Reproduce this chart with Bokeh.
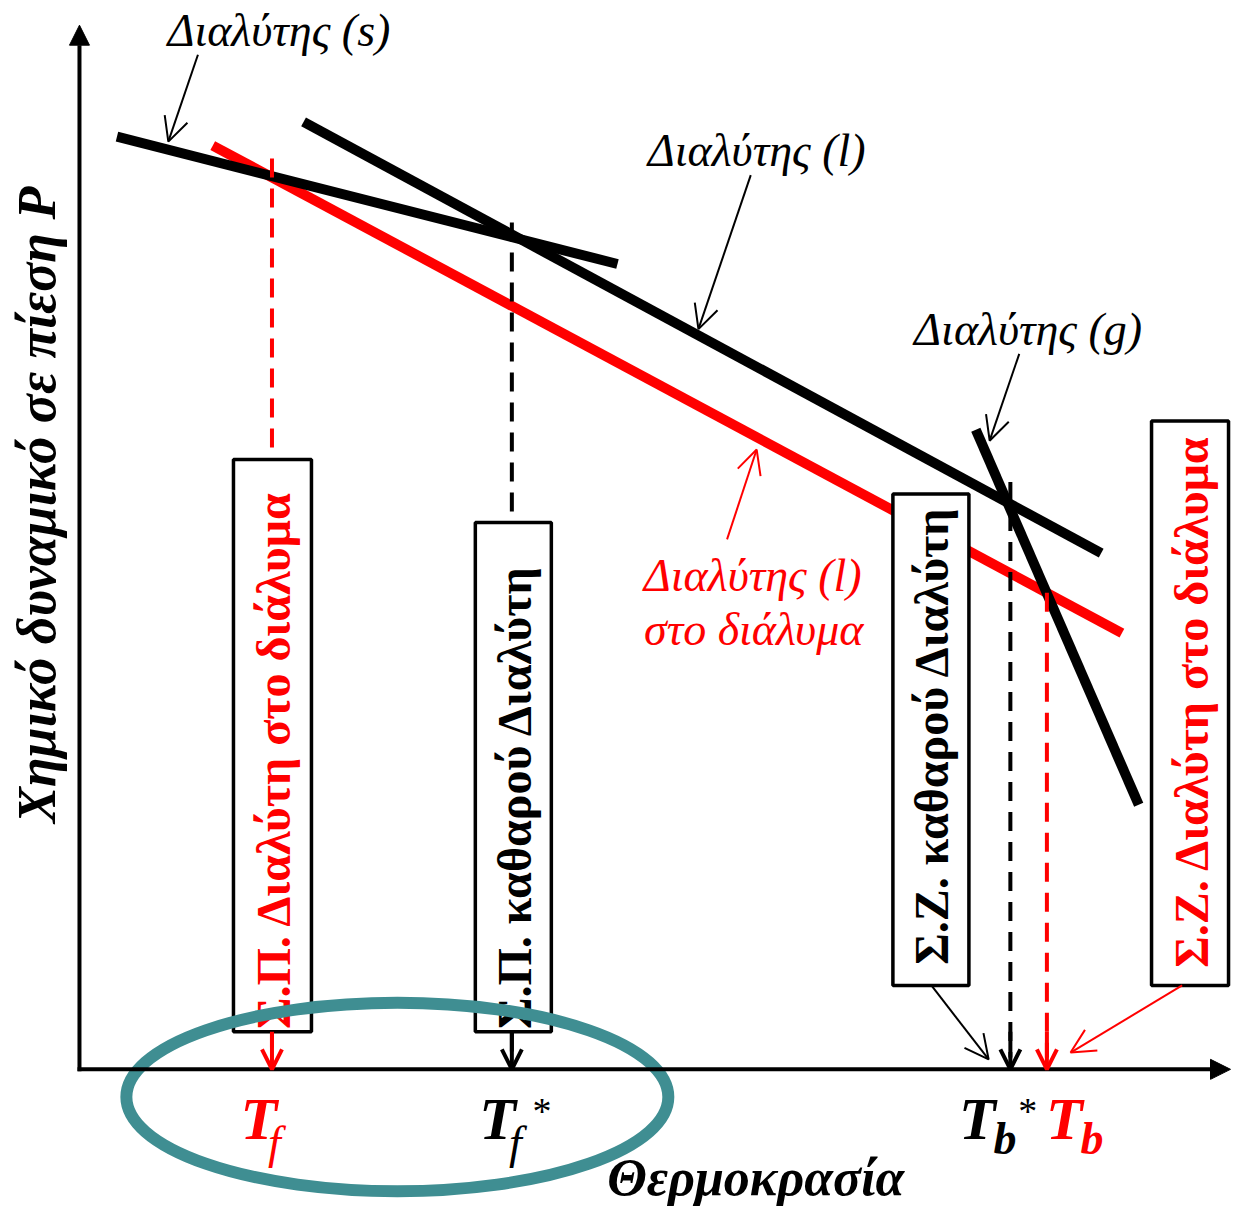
import math
from bokeh.plotting import figure
from bokeh.models import Range1d, Arrow, OpenHead, NormalHead
from bokeh.embed import file_html
from bokeh.resources import INLINE
from bokeh.core.properties import value

SERIF = "Liberation Serif"

# ---- curves: temperature (x) vs chemical potential (y, drawn downwards) ----
solid_T = [118, 625]
solid_mu = [138, 267]
liquid_T = [307, 1115]
liquid_mu = [123, 560]
solution_T = [215, 1136]
solution_mu = [147, 641]
gas_T = [988, 1153]
gas_mu = [435, 815]

# ---- transition temperatures and the potential where the curves cross ----
trans_T = [275, 518, 1023, 1060]
trans_mu = [160, 225, 488, 600]
trans_color = ["red", "black", "black", "red"]

axis_mu = 1083     # position of the temperature axis
axis_T = 80        # position of the potential axis

# ---- labelled boxes ----
box_left = [236, 481, 904, 1166]
box_right = [315, 558, 981, 1244]
box_top = [465, 529, 500, 426]
box_bottom = [1045, 1045, 998, 998]
box_text = ["Σ.Π. Διαλύτη στο διάλυμα", "Σ.Π. καθαρού Διαλύτη",
            "Σ.Ζ. καθαρού Διαλύτη", "Σ.Ζ. Διαλύτη στο διάλυμα"]
box_text_start = [1042, 1042, 977, 980]
box_color = ["red", "black", "black", "red"]

p = figure(width=1231, height=1208, output_backend="svg", toolbar_location=None,
           x_range=Range1d(0, 1247), y_range=Range1d(1224, 0),
           min_border=0, outline_line_color=None)
p.axis.visible = False
p.grid.visible = False
p.background_fill_color = "white"

# axes with arrows
p.add_layout(Arrow(end=NormalHead(size=20, fill_color="black", line_color="black"),
                   x_start=axis_T, y_start=axis_mu + 2, x_end=axis_T, y_end=25,
                   line_width=4, line_color="black"))
p.add_layout(Arrow(end=NormalHead(size=20, fill_color="black", line_color="black"),
                   x_start=axis_T - 2, y_start=axis_mu, x_end=1246, y_end=axis_mu,
                   line_width=4, line_color="black"))

# curves
p.line(solution_T, solution_mu, line_width=10, color="red")
p.line(solid_T, solid_mu, line_width=10, color="black")
p.line(liquid_T, liquid_mu, line_width=10, color="black")
p.line(gas_T, gas_mu, line_width=10, color="black")

# dashed drops to the temperature axis
for T, mu, c in zip(trans_T, trans_mu, trans_color):
    p.line([T, T], [mu, axis_mu - 12], line_width=4, color=c, line_dash="19 11")
    p.add_layout(Arrow(end=OpenHead(size=20, line_width=4, line_color=c),
                       x_start=T, y_start=axis_mu - 38, x_end=T, y_end=axis_mu,
                       line_width=4, line_color=c))

# boxes
p.quad(left=box_left, right=box_right, top=box_top, bottom=box_bottom,
       fill_color="white", line_color="black", line_width=3.5)
for l, r, s, t, c in zip(box_left, box_right, box_text_start, box_text, box_color):
    p.text(x=[(l + r) / 2 + 1], y=[s], text=[t], angle=math.pi / 2,
           text_align="left", text_baseline="middle", text_color=c,
           text_font=value(SERIF), text_font_style="bold", text_font_size="48px")

# teal ellipse
p.ellipse(x=[402], y=[1111], width=[549], height=[191], fill_color=None,
          line_color="#3f8e92", line_width=12)

# italic labels
def label(x, y, t, c="black", size="46px", style="italic", align="center",
          baseline="middle", angle=0.0):
    p.text(x=[x], y=[y], text=[t], text_color=c, text_font=value(SERIF),
           text_font_style=style, text_font_size=size, text_align=align,
           text_baseline=baseline, angle=angle)

label(282, 30, "Διαλύτης (s)")
label(766, 152, "Διαλύτης (l)")
label(1041, 333, "Διαλύτης (g)")
label(762, 583, "Διαλύτης (l)", c="red")
label(763, 637, "στο διάλυμα", c="red")
label(765, 1193, "Θερμοκρασία", style="bold italic", size="52px")
label(37, 511, "Χημικό δυναμικό σε πίεση P", style="bold italic", size="54px",
      angle=math.pi / 2)

# temperature labels
label(243, 1133, "T", c="red", style="bold italic", size="60px", align="left")
label(271, 1157, "f", c="red", style="italic", size="46px", align="left")
label(485, 1133, "T", style="bold italic", size="60px", align="left")
label(515, 1157, "f", style="italic", size="46px", align="left")
label(539, 1125, "*", style="normal", size="38px", align="left")
label(971, 1133, "T", style="bold italic", size="60px", align="left")
label(1006, 1153, "b", style="bold italic", size="46px", align="left")
label(1031, 1125, "*", style="normal", size="38px", align="left")
label(1059, 1133, "T", c="red", style="bold italic", size="60px", align="left")
label(1094, 1153, "b", c="red", style="bold italic", size="46px", align="left")

# thin pointer arrows
ptr_x0 = [200, 760, 1032, 736, 943, 1197]
ptr_y0 = [55, 177, 358, 546, 998, 998]
ptr_x1 = [170, 707, 1002, 766, 1001, 1084]
ptr_y1 = [143, 333, 446, 455, 1073, 1066]
ptr_c = ["black", "black", "black", "red", "black", "red"]
for x0, y0, x1, y1, c in zip(ptr_x0, ptr_y0, ptr_x1, ptr_y1, ptr_c):
    p.add_layout(Arrow(end=OpenHead(size=24, line_width=2, line_color=c),
                       x_start=x0, y_start=y0, x_end=x1, y_end=y1,
                       line_width=2, line_color=c))

open("out.html", "w").write(file_html(p, INLINE))
